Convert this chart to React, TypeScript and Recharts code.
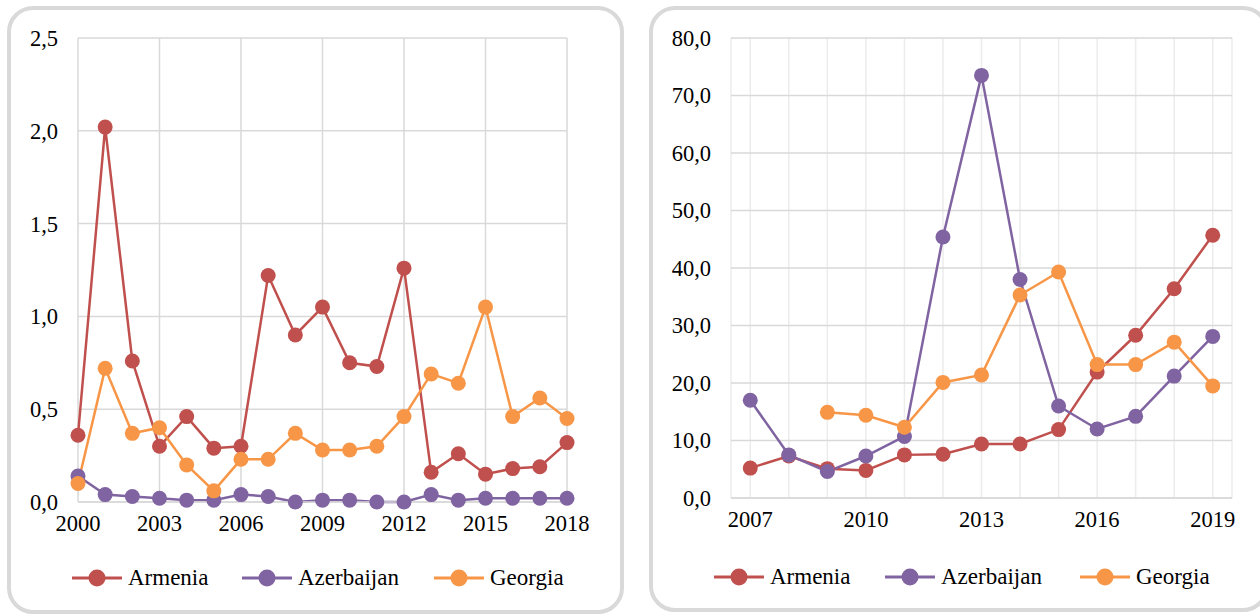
import { LineChart, Line, XAxis, YAxis, CartesianGrid, Legend } from 'recharts';

const FONT = '"Liberation Serif", "Times New Roman", serif';

const SERIES = [
  { key: 'Armenia', color: '#C0504D' },
  { key: 'Azerbaijan', color: '#8064A2' },
  { key: 'Georgia', color: '#F79646' },
];

// Panel 1: 2000-2018
const yearsA = [2000, 2001, 2002, 2003, 2004, 2005, 2006, 2007, 2008, 2009, 2010, 2011, 2012, 2013, 2014, 2015, 2016, 2017, 2018];
const armeniaA = [0.36, 2.02, 0.76, 0.3, 0.46, 0.29, 0.3, 1.22, 0.9, 1.05, 0.75, 0.73, 1.26, 0.16, 0.26, 0.15, 0.18, 0.19, 0.32];
const azerbaijanA = [0.14, 0.04, 0.03, 0.02, 0.01, 0.01, 0.04, 0.03, 0.0, 0.01, 0.01, 0.0, 0.0, 0.04, 0.01, 0.02, 0.02, 0.02, 0.02];
const georgiaA = [0.1, 0.72, 0.37, 0.4, 0.2, 0.06, 0.23, 0.23, 0.37, 0.28, 0.28, 0.3, 0.46, 0.69, 0.64, 1.05, 0.46, 0.56, 0.45];
const xTicksA = [2000, 2003, 2006, 2009, 2012, 2015, 2018];
const yTicksA = [0, 0.5, 1, 1.5, 2, 2.5];

// Panel 2: 2007-2019
const yearsB = [2007, 2008, 2009, 2010, 2011, 2012, 2013, 2014, 2015, 2016, 2017, 2018, 2019];
const armeniaB = [5.2, 7.3, 5.1, 4.8, 7.5, 7.6, 9.4, 9.4, 11.9, 21.9, 28.3, 36.4, 45.7];
const azerbaijanB = [17.0, 7.5, 4.6, 7.3, 10.7, 45.4, 73.5, 38.0, 16.0, 12.0, 14.2, 21.2, 28.1];
const georgiaB = [null, null, 14.9, 14.4, 12.3, 20.1, 21.4, 35.3, 39.3, 23.2, 23.2, 27.1, 19.5];
const xTicksB = [2007, 2010, 2013, 2016, 2019];
const yTicksB = [0, 10, 20, 30, 40, 50, 60, 70, 80];

const rowsA = yearsA.map((year, i) => ({
  year,
  Armenia: armeniaA[i],
  Azerbaijan: azerbaijanA[i],
  Georgia: georgiaA[i],
}));

const rowsB = yearsB.map((year, i) => ({
  year,
  Armenia: armeniaB[i],
  Azerbaijan: azerbaijanB[i],
  Georgia: georgiaB[i],
}));

// half-year grid lines for the second panel
const halfStepsB = [...yearsB.map((y) => y - 0.5), yearsB[yearsB.length - 1] + 0.5, ...yearsB];

const tick = { fill: '#000', fontSize: 22.5, fontFamily: FONT };
const comma = (v: number) => v.toFixed(1).replace('.', ',');

function LegendRow({ starts }: { starts: number[] }) {
  return (
    <div style={{ position: 'relative', height: 30, fontFamily: FONT }}>
      {SERIES.map((s, i) => (
        <div
          key={s.key}
          style={{ position: 'absolute', left: starts[i], top: 0, display: 'flex', alignItems: 'center', height: 30 }}
        >
          <svg width={50} height={20}>
            <line x1={0} y1={10} x2={50} y2={10} stroke={s.color} strokeWidth={3} />
            <circle cx={25} cy={10} r={8.5} fill={s.color} />
          </svg>
          <span style={{ marginLeft: 6, fontSize: 23, color: '#000' }}>{s.key}</span>
        </div>
      ))}
    </div>
  );
}

const panel = {
  position: 'absolute' as const,
  border: '4px solid #d9d9d9',
  borderRadius: 26,
  boxSizing: 'border-box' as const,
  background: '#fff',
};

export default function App() {
  return (
    <div style={{ position: 'absolute', left: 0, top: 0, width: 1260, height: 615, overflow: 'hidden', background: '#fff', fontFamily: FONT }}>
      <div style={{ ...panel, left: 7, top: 6, width: 617, height: 608 }} />
      <div style={{ ...panel, left: 649, top: 6, width: 620, height: 606 }} />

      <div style={{ position: 'absolute', left: 0, top: 0 }}>
        <LineChart width={622} height={615} data={rowsA} margin={{ top: 38, right: 55, bottom: 53, left: 18 }}>
          <CartesianGrid stroke="#d9d9d9" strokeWidth={1.5} />
          <XAxis
            dataKey="year"
            type="number"
            domain={[2000, 2018]}
            ticks={xTicksA}
            tick={tick}
            tickLine={false}
            tickSize={0}
            tickMargin={13}
            axisLine={{ stroke: '#d9d9d9', strokeWidth: 1.5 }}
            height={30}
          />
          <YAxis
            domain={[0, 2.5]}
            ticks={yTicksA}
            tick={tick}
            tickFormatter={comma}
            tickLine={false}
            tickSize={0}
            tickMargin={20}
            axisLine={false}
            width={60}
          />
          {SERIES.map((s) => (
            <Line
              key={s.key}
              dataKey={s.key}
              stroke={s.color}
              strokeWidth={2.5}
              dot={{ r: 7.5, fill: s.color, stroke: s.color, strokeWidth: 0 }}
              isAnimationActive={false}
            />
          ))}
          <Legend content={() => <LegendRow starts={[72, 242, 434]} />} wrapperStyle={{ left: 0, top: 563, width: 622 }} />
        </LineChart>
      </div>

      <div style={{ position: 'absolute', left: 640, top: 0 }}>
        <LineChart width={620} height={615} data={rowsB} margin={{ top: 38, right: 28, bottom: 57, left: 31 }}>
          <XAxis xAxisId="grid" type="number" dataKey="year" domain={[2006.5, 2019.5]} ticks={halfStepsB} height={0} hide />
          <CartesianGrid xAxisId="grid" horizontal={false} stroke="#ececec" strokeWidth={1.5} />
          <CartesianGrid vertical={false} stroke="#d9d9d9" strokeWidth={1.5} />
          <XAxis
            dataKey="year"
            type="number"
            domain={[2006.5, 2019.5]}
            ticks={xTicksB}
            tick={tick}
            tickLine={false}
            tickSize={0}
            tickMargin={13}
            axisLine={{ stroke: '#d9d9d9', strokeWidth: 1.5 }}
            height={30}
          />
          <YAxis
            domain={[0, 80]}
            ticks={yTicksB}
            tick={tick}
            tickFormatter={comma}
            tickLine={false}
            tickSize={0}
            tickMargin={20}
            axisLine={false}
            width={60}
          />
          {SERIES.map((s) => (
            <Line
              key={s.key}
              dataKey={s.key}
              stroke={s.color}
              strokeWidth={2.5}
              dot={{ r: 7.5, fill: s.color, stroke: s.color, strokeWidth: 0 }}
              isAnimationActive={false}
            />
          ))}
          <Legend content={() => <LegendRow starts={[74, 245, 440]} />} wrapperStyle={{ left: 0, top: 562, width: 620 }} />
        </LineChart>
      </div>
    </div>
  );
}
